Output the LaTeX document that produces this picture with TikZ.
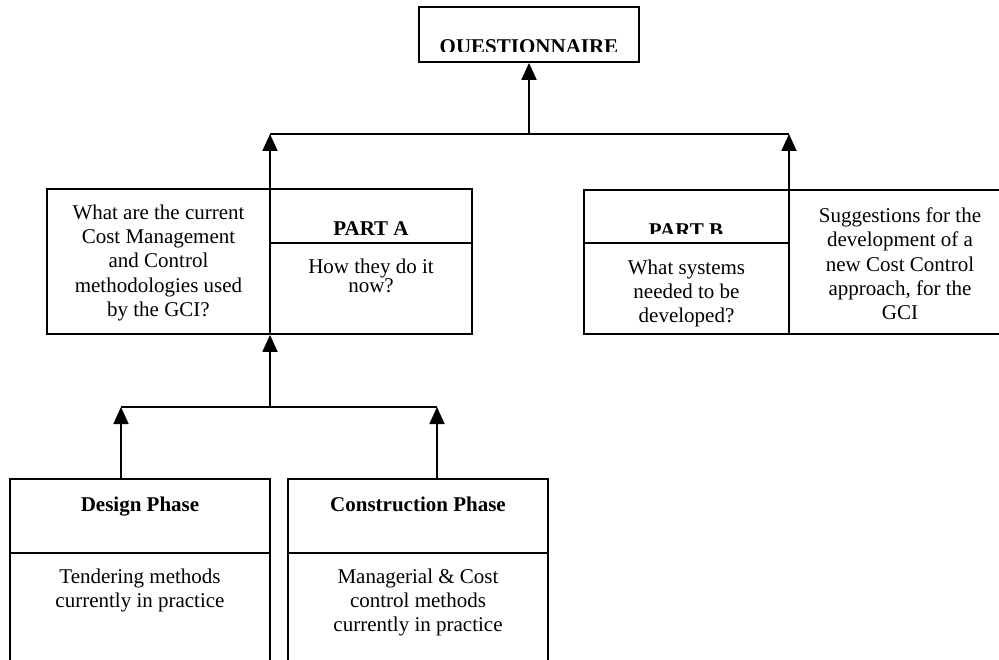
\documentclass[tikz,border=0pt]{standalone}
\usepackage{fontspec}
\setmainfont{Liberation Serif}
\usetikzlibrary{arrows.meta}
\tikzset{
 box/.style={draw,line width=1.8pt,inner sep=0pt},
 txt/.style={font=\fontsize{21}{24.3}\selectfont,align=center,inner sep=0pt},
 head/.style={font=\fontsize{21}{24.3}\selectfont\bfseries,inner sep=0pt},
 arr/.style={line width=1.8pt,-{Triangle[length=17pt,width=15pt]}},
 rule/.style={line width=1.8pt}
}
\begin{document}
\begin{tikzpicture}[x=1pt,y=-1pt]
 \clip (0,0) rectangle (999,660);
 \node[box,minimum width=220,minimum height=55] (quest) at (529,34.5) {};
 \node[box,minimum width=425,minimum height=145] (partA) at (259.5,261.5) {};
 \node[box,minimum width=440,minimum height=144] (partB) at (804,262) {};
 \node[box,minimum width=260,minimum height=221] (design) at (140,589.5) {};
 \node[box,minimum width=260,minimum height=221] (constr) at (418,589.5) {};
 \coordinate (aMid) at (270,243);
 \coordinate (bMid) at (789,243);
 \coordinate (topbar) at (529,134);
 \coordinate (lowbar) at (270,407);
 \coordinate (dArr) at (121,407);
 \coordinate (cArr) at (437,407);
 \draw[rule] (partA.north -| aMid) -- (partA.south -| aMid);
 \draw[rule] (aMid) -- (aMid -| partA.east);
 \draw[rule] (partB.north -| bMid) -- (partB.south -| bMid);
 \draw[rule] (bMid) -- (bMid -| partB.west);
 \draw[rule] (design.west |- 0,553) -- (design.east |- 0,553);
 \draw[rule] (constr.west |- 0,553) -- (constr.east |- 0,553);
 \draw[rule] (aMid |- topbar) -- (bMid |- topbar);
 \draw[arr] (topbar) -- (quest.south);
 \draw[arr] (partA.north -| aMid) -- (aMid |- topbar);
 \draw[arr] (partB.north -| bMid) -- (bMid |- topbar);
 \draw[rule] (dArr) -- (cArr);
 \draw[arr] (lowbar) -- (partA.south -| lowbar);
 \draw[arr] (design.north -| dArr) -- (dArr);
 \draw[arr] (constr.north -| cArr) -- (cArr);
 \begin{scope}
  \clip (420,8) rectangle (638,52);
  \node[head,anchor=base] (questtxt) at (529,54) {QUESTIONNAIRE};
 \end{scope}
 \node[txt] (nowq) at (158.5,262.8) {What are the current\\Cost Management\\and Control\\methodologies used\\by the GCI?};
 \node[head,anchor=base] (partatxt) at (371,236) {PART A};
 \node[txt,font={\fontsize{21}{19.5}\selectfont\lineskiplimit=-20pt}] (howq) at (371,276) {How they do it\\now?};
 \begin{scope}
  \clip (585,191) rectangle (788,234);
  \node[head,anchor=base] (partbtxt) at (686,238) {PART B};
 \end{scope}
 \begin{scope}
  \clip (585,244) rectangle (788,333);
  \node[txt] (sysq) at (686.5,293.5) {What systems\\needed to be\\developed?};
 \end{scope}
 \node[txt] (suggest) at (900,264) {Suggestions for the\\development of a\\new Cost Control\\approach, for the\\GCI};
 \node[head,anchor=base] (designtxt) at (140,511) {Design Phase};
 \node[head,anchor=base] (constrtxt) at (418,511) {Construction Phase};
 \node[txt] (tender) at (140,590.3) {Tendering methods\\currently in practice};
 \node[txt] (manage) at (418,602.5) {Managerial \& Cost\\control methods\\currently in practice};
\end{tikzpicture}
\end{document}
